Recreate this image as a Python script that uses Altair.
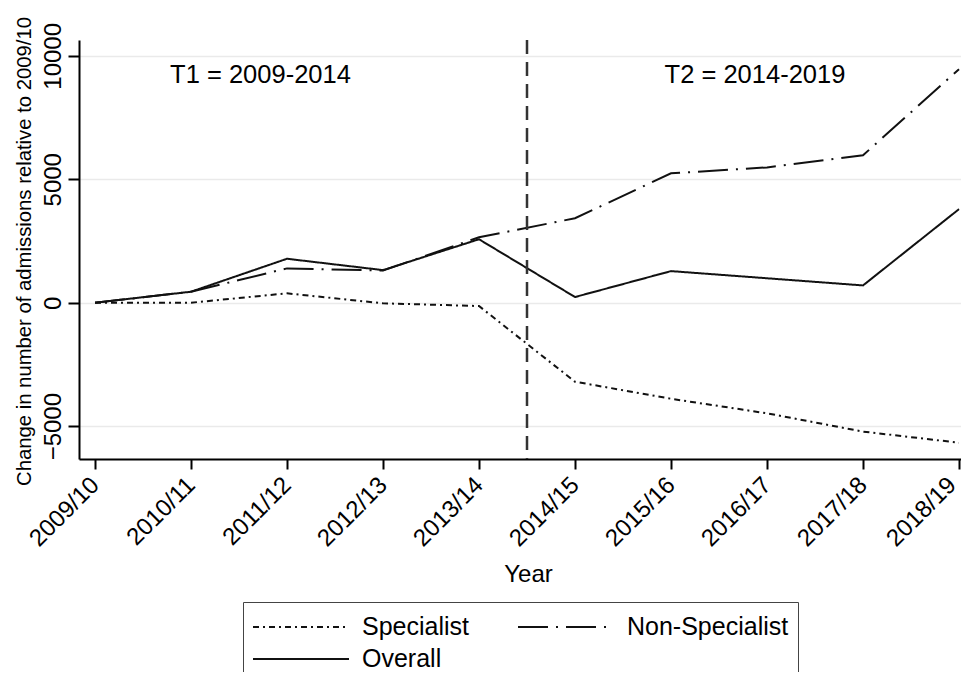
import altair as alt
import pandas as pd

# ---- data ----
years = ["2009/10", "2010/11", "2011/12", "2012/13", "2013/14",
         "2014/15", "2015/16", "2016/17", "2017/18", "2018/19"]
specialist = [0, 0, 380, -25, -135, -3200, -3890, -4480, -5220, -5670]
non_specialist = [0, 445, 1390, 1300, 2650, 3420, 5240, 5480, 5970, 9460]
overall = [0, 445, 1780, 1320, 2570, 230, 1280, 990, 700, 3790]
series_names = ["Specialist", "Non-Specialist", "Overall"]
series_dash = [[6, 4, 2, 4], [30, 8, 2, 8], [1, 0]]
period_break = [4.5]
annot_text = ["T1 = 2009-2014", "T2 = 2014-2019"]
annot_x = [1.724, 6.875]
annot_y = [8918, 8918]

rows = []
for i, yr in enumerate(years):
    for name, vals in zip(series_names, [specialist, non_specialist, overall]):
        rows.append({"idx": i, "year": yr, "series": name, "value": vals[i]})
df = pd.DataFrame(rows)

FONT = "Liberation Sans"
label_expr = "[" + ",".join("'%s'" % y for y in years) + "][datum.value]"
last_idx = len(years) - 1

x_scale = alt.Scale(domain=[-0.1667, 9.0208], nice=False, zero=False)
y_scale = alt.Scale(domain=[-6330, 10640], nice=False, zero=False)

x_axis = alt.Axis(
    values=list(range(len(years))), labelExpr=label_expr,
    labelAngle=315, labelAlign="right", labelBaseline="middle",
    labelPadding=12, labelFontSize=24, labelFont=FONT, labelColor="black",
    labelOffset={"condition": {"test": "datum.value == %d" % last_idx, "value": -7}, "value": 0},
    labelFlush=False, labelOverlap=False,
    tickSize=10, tickWidth=2, tickColor="black",
    domainColor="black", domainWidth=2, grid=False,
    title="Year", titleFontSize=24, titleFont=FONT, titleFontWeight="normal",
    titleColor="black", titleX=449, titleY=122, titleAlign="center",
    titleBaseline="alphabetic",
)
y_axis = alt.Axis(
    values=[-5000, 0, 5000, 10000], format="d",
    labelAngle=270, labelAlign="center", labelBaseline="bottom",
    labelPadding=3, labelFontSize=24, labelFont=FONT, labelColor="black",
    labelFlush=False, labelOverlap=False,
    tickSize=11, tickWidth=2, tickColor="black",
    domainColor="black", domainWidth=2,
    grid=True, gridColor="#eaeaea", gridWidth=1.5,
    title="Change in number of admissions relative to 2009/10",
    titleFontSize=20.3, titleFont=FONT, titleFontWeight="normal",
    titleColor="black", titleAngle=270, titleX=-55, titleY=211,
    titleAlign="center", titleBaseline="middle",
)

legend = alt.Legend(
    title=None, orient="none", legendX=164, legendY=562,
    direction="horizontal", columns=2, columnPadding=48, rowPadding=0,
    symbolType="stroke", symbolSize=9216, symbolStrokeWidth=2,
    symbolStrokeColor="#111111", clipHeight=32,
    labelFontSize=25, labelFont=FONT, labelColor="black", labelOffset=12,
    labelLimit=400, padding=9, strokeColor="#444444",
)

X = alt.X("idx:Q", scale=x_scale, axis=x_axis)
Y = alt.Y("value:Q", scale=y_scale, axis=y_axis)

lines = alt.Chart(df).mark_line(strokeWidth=2, color="#111111").encode(
    x=X,
    y=Y,
    strokeDash=alt.StrokeDash(
        "series:N",
        scale=alt.Scale(domain=series_names, range=series_dash),
        legend=legend,
    ),
)

rule = alt.Chart(pd.DataFrame({"idx": period_break})).mark_rule(
    color="#333333", strokeWidth=2.5, strokeDash=[14, 8]
).encode(x=X)

text = alt.Chart(pd.DataFrame({"t": annot_text, "idx": annot_x, "value": annot_y})).mark_text(
    fontSize=25.5, font=FONT, color="black", align="center", baseline="alphabetic"
).encode(x=X, y=Y, text="t:N")

chart = alt.layer(lines, rule, text).properties(
    width=882, height=419,
    autosize=alt.AutoSizeParams(type="none"),
    padding={"left": 71, "top": 32, "right": 0, "bottom": 213},
).configure_view(stroke=None)

chart.save("out.html", embed_options={"renderer": "svg", "actions": False})
